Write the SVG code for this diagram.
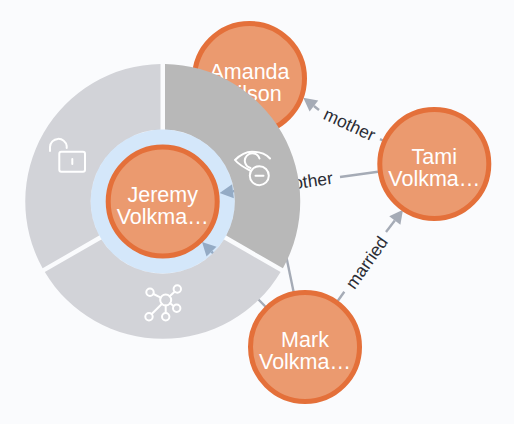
<svg xmlns="http://www.w3.org/2000/svg" width="514" height="424" viewBox="0 0 514 424">
<style>
text{font-family:"Liberation Sans",Arial,sans-serif}
.ring{fill:#eb9a6f;stroke:#e4703a;stroke-width:5}
.cap{fill:#fff;font-size:21.5px;text-anchor:middle}
.lab{fill:#2a2c34;font-size:17.5px;text-anchor:middle}
.edge{stroke:#a5abb6;stroke-width:2.4;fill:none}
.ico{fill:none;stroke:#fff;stroke-width:2;stroke-linecap:round;stroke-linejoin:round}
</style>
<defs>
<marker id="arrow" markerUnits="userSpaceOnUse" markerWidth="16" markerHeight="16" refX="0" refY="8" orient="auto" overflow="visible"><path d="M0,1 L13.5,8 L0,15 z" fill="#a5abb6"/></marker>
</defs>
<rect width="514" height="424" fill="#fafbfd"/>
<g id="connectors">
<line class="edge" x1="305" y1="347" x2="258" y2="299"/>
<line class="edge" x1="258" y1="299" x2="211.5" y2="251.6" marker-end="url(#arrow)"/>
<line class="edge" x1="305" y1="347" x2="270" y2="178"/>
<line class="edge" x1="378" y1="171.7" x2="340" y2="177"/>
<line class="edge" x1="290" y1="184" x2="233" y2="191.2" marker-end="url(#arrow)"/>
<line class="edge" x1="385" y1="141.5" x2="380" y2="139.2"/>
<line class="edge" x1="319" y1="110" x2="313.9" y2="106" marker-end="url(#arrow)"/>
<line class="edge" x1="337.7" y1="301" x2="344.3" y2="291.7"/>
<line class="edge" x1="386" y1="232" x2="394.8" y2="220.5" marker-end="url(#arrow)"/>
<text class="lab" transform="translate(347 130) rotate(24.9)">mother</text>
<text class="lab" transform="translate(306.5 187.5) rotate(-7.9)">mother</text>
<text class="lab" transform="translate(371.5 266) rotate(-54.8)">married</text>
</g>
<g id="node-amanda">
<circle class="ring" cx="249.5" cy="78.5" r="55"/>
<text class="cap" x="249.5" y="78.5">Amanda</text>
<text class="cap" x="249.5" y="100.5">Wilson</text>
</g>
<g id="menu">
<path fill="#b8b8b8" d="M165,64 A137.5,137.5 0 0 1 282.9,268.3 L226.2,235.6 A72,72 0 0 0 165,129.5 Z"/>
<path fill="#d2d3d8" d="M280.6,272.1 A137.5,137.5 0 0 1 44.8,272.1 L101.4,239.4 A72,72 0 0 0 224,239.4 Z"/>
<path fill="#d2d3d8" d="M42.6,268.3 A137.5,137.5 0 0 1 160.5,64 L160.5,129.5 A72,72 0 0 0 99.2,235.6 Z"/>
<circle cx="162.7" cy="201.5" r="72" fill="#62acf5" fill-opacity=".25"/>
<g class="ico">
<rect x="59.3" y="151.7" width="25.7" height="20" rx="2"/>
<path d="M50,151 V147 A8.4,8.4 0 0 1 66.7,146 V148"/>
<path d="M72.3,159 V164"/>
</g>
<g class="ico">
<path d="M251,171 C245,168 239,165 235,160 C240,155 246,151.7 252,151.7 C259,151.7 266,154 270,158.5"/>
<path d="M250.5,168 A7.5,7.5 0 1 1 259.5,158.5"/>
<circle cx="259.3" cy="175.7" r="9.5"/>
<path d="M255.5,175.7 H263.5"/>
</g>
<g class="ico" stroke-width="1.8">
<circle cx="165.7" cy="300" r="5.5"/>
<circle cx="150" cy="292.3" r="3.7"/>
<circle cx="177.3" cy="289" r="3.7"/>
<circle cx="176.7" cy="308.3" r="3.7"/>
<circle cx="165.7" cy="316.7" r="3.7"/>
<circle cx="149" cy="316.7" r="3.7"/>
<path d="M153.5,294 L160.7,297.6 M174.6,291.7 L169.7,296.2 M173.5,306 L170.2,303.2 M165.7,313 V305.5 M151.7,314 L161.8,304"/>
</g>
</g>
<g id="node-jeremy">
<circle class="ring" cx="162.7" cy="201.5" r="54.5"/>
<text class="cap" x="162.7" y="201.5">Jeremy</text>
<text class="cap" x="162.7" y="223.5">Volkma…</text>
</g>
<g id="node-tami">
<circle class="ring" cx="434.3" cy="164" r="54.5"/>
<text class="cap" x="434.3" y="164">Tami</text>
<text class="cap" x="434.3" y="186">Volkma…</text>
</g>
<g id="node-mark">
<circle class="ring" cx="305" cy="347" r="54.5"/>
<text class="cap" x="305" y="347">Mark</text>
<text class="cap" x="305" y="369">Volkma…</text>
</g>
</svg>
